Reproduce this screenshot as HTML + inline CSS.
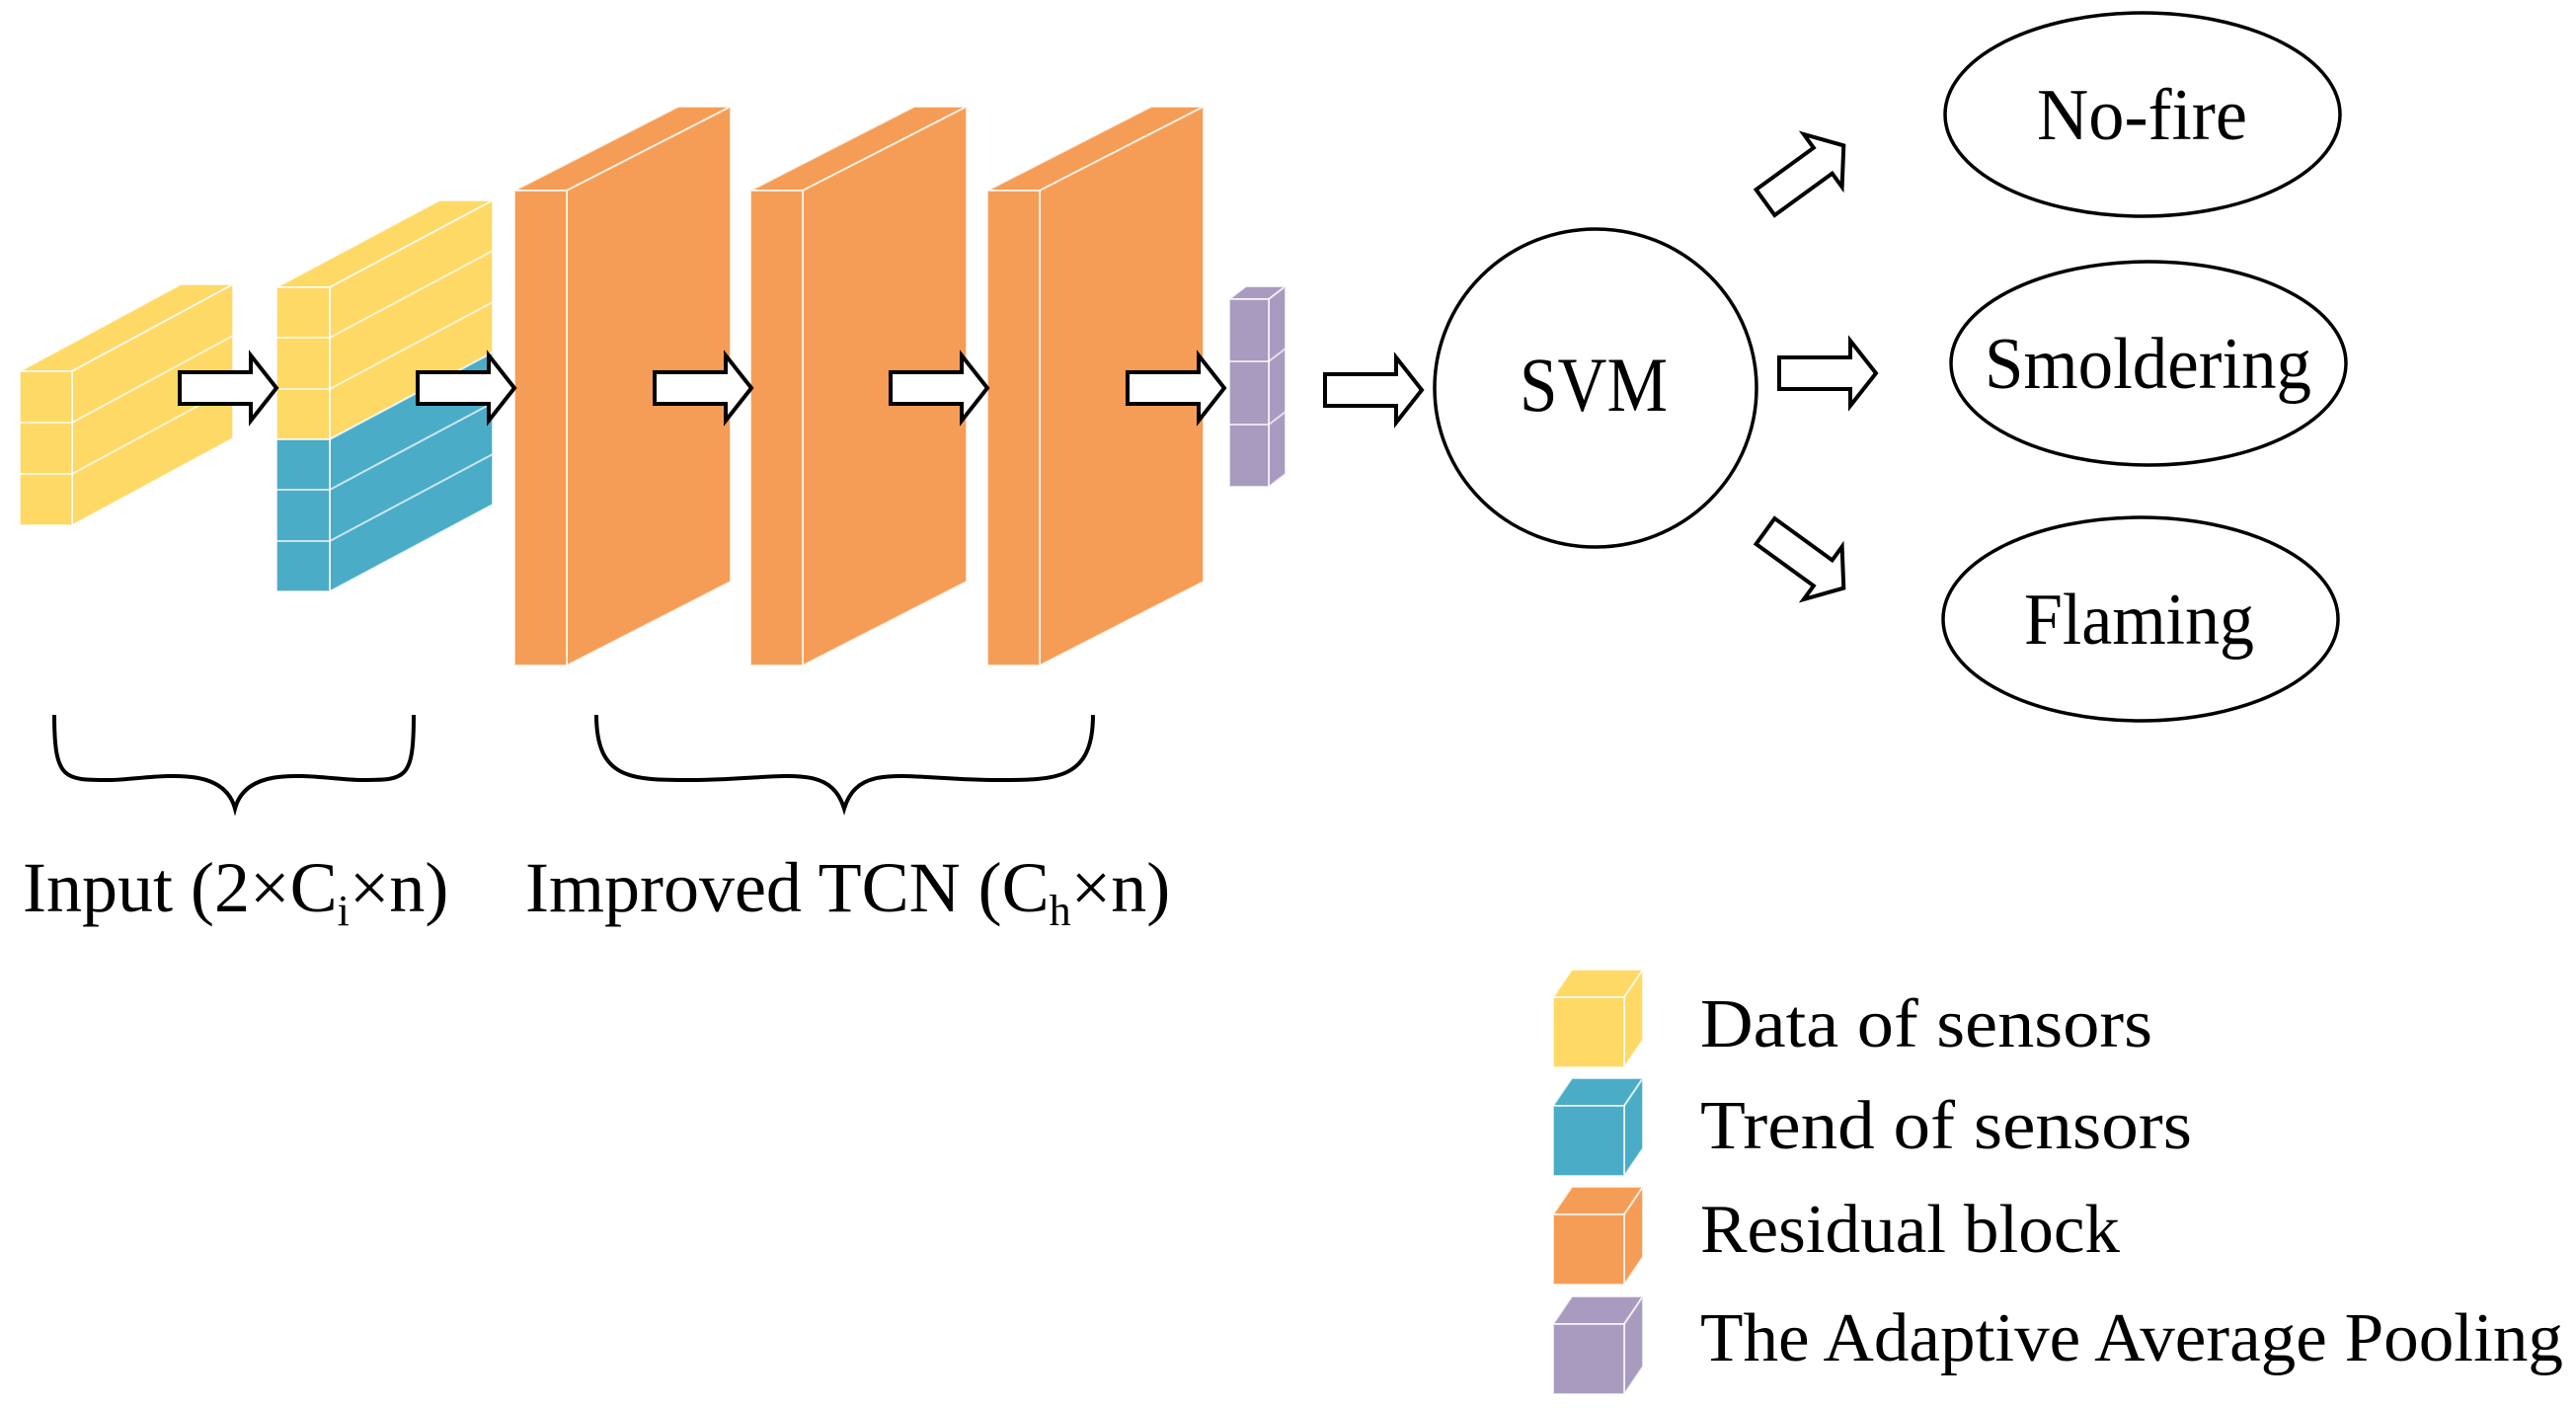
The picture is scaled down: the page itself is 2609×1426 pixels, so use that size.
<!DOCTYPE html>
<html><head><meta charset="utf-8"><style>html,body{margin:0;padding:0;background:#fff}svg{display:block}</style></head>
<body>
<svg width="2609" height="1426" viewBox="0 0 2609 1426" xmlns="http://www.w3.org/2000/svg" font-family="Liberation Serif, serif">
<defs>
<path id="arr" d="M0,-16 L72,-16 L72,-33 L98,0 L72,33 L72,16 L0,16 Z" fill="#fff" stroke="#000" stroke-width="4" stroke-linejoin="miter"/>
</defs>
<g stroke="#fff" stroke-opacity="0.7" stroke-width="2">
<!-- Block 1 yellow -->
<polygon points="20,376 183,288 236,288 73,376" fill="#FED966"/>
<polygon points="73,376 236,288 236,444 73,532" fill="#FED966"/>
<rect x="20" y="376" width="53" height="156" fill="#FED966"/>
<line x1="20" y1="428" x2="73" y2="428"/><line x1="73" y1="428" x2="236" y2="340"/>
<line x1="20" y1="480" x2="73" y2="480"/><line x1="73" y1="480" x2="236" y2="392"/>
<!-- Block 2 -->
<polygon points="280,291 445,203 499,203 334,291" fill="#FED966"/>
<polygon points="334,291 499,203 499,357 334,445" fill="#FED966"/>
<polygon points="334,445 499,357 499,511 334,599" fill="#4AACC6"/>
<rect x="280" y="291" width="54" height="154" fill="#FED966"/>
<rect x="280" y="445" width="54" height="154" fill="#4AACC6"/>
<line x1="280" y1="342" x2="334" y2="342"/><line x1="334" y1="342" x2="499" y2="254"/>
<line x1="280" y1="394" x2="334" y2="394"/><line x1="334" y1="394" x2="499" y2="306"/>
<line x1="280" y1="496" x2="334" y2="496"/><line x1="334" y1="496" x2="499" y2="408"/>
<line x1="280" y1="548" x2="334" y2="548"/><line x1="334" y1="548" x2="499" y2="460"/>
<!-- Orange blocks -->
<g fill="#F59D56">
<polygon points="521,193 687,108 740,108 574,193"/><polygon points="574,193 740,108 740,589 574,674"/><rect x="521" y="193" width="53" height="481"/>
<polygon points="760,193 926,108 979,108 813,193"/><polygon points="813,193 979,108 979,589 813,674"/><rect x="760" y="193" width="53" height="481"/>
<polygon points="1000,193 1166,108 1219,108 1053,193"/><polygon points="1053,193 1219,108 1219,589 1053,674"/><rect x="1000" y="193" width="53" height="481"/>
</g>
<!-- Purple -->
<g fill="#A99BC0">
<polygon points="1245,303 1262,290 1302,290 1285,303"/><polygon points="1285,303 1302,290 1302,480 1285,493"/><rect x="1245" y="303" width="40" height="190"/>
</g>
<line x1="1245" y1="366" x2="1285" y2="366"/><line x1="1285" y1="366" x2="1302" y2="353"/>
<line x1="1245" y1="430" x2="1285" y2="430"/><line x1="1285" y1="430" x2="1302" y2="417"/>
<!-- Legend cubes -->
<g transform="translate(1573,982)"><polygon points="0,28 19,0 91,0 72,28" fill="#FED966"/><polygon points="72,28 91,0 91,71 72,99" fill="#FED966"/><rect x="0" y="28" width="72" height="71" fill="#FED966"/></g>
<g transform="translate(1573,1092)"><polygon points="0,28 19,0 91,0 72,28" fill="#4AACC6"/><polygon points="72,28 91,0 91,71 72,99" fill="#4AACC6"/><rect x="0" y="28" width="72" height="71" fill="#4AACC6"/></g>
<g transform="translate(1573,1202)"><polygon points="0,28 19,0 91,0 72,28" fill="#F59D56"/><polygon points="72,28 91,0 91,71 72,99" fill="#F59D56"/><rect x="0" y="28" width="72" height="71" fill="#F59D56"/></g>
<g transform="translate(1573,1313)"><polygon points="0,28 19,0 91,0 72,28" fill="#A99BC0"/><polygon points="72,28 91,0 91,71 72,99" fill="#A99BC0"/><rect x="0" y="28" width="72" height="71" fill="#A99BC0"/></g>
</g>
<!-- Arrows -->
<use href="#arr" transform="translate(182,393)"/>
<use href="#arr" transform="translate(423,393)"/>
<use href="#arr" transform="translate(663,393)"/>
<use href="#arr" transform="translate(902,393)"/>
<use href="#arr" transform="translate(1142,393)"/>
<use href="#arr" transform="translate(1342,395)"/>
<use href="#arr" transform="translate(1802,378)"/>
<use href="#arr" transform="translate(1788,205) rotate(-36)"/>
<use href="#arr" transform="translate(1788,538) rotate(36)"/>
<!-- Circles/ellipses -->
<g fill="none" stroke="#000" stroke-width="3.5">
<ellipse cx="1616" cy="393" rx="163" ry="161"/>
<ellipse cx="2170" cy="116" rx="200" ry="103"/>
<ellipse cx="2176" cy="368" rx="200" ry="103"/>
<ellipse cx="2168" cy="627" rx="200" ry="103"/>
<!-- Braces -->
<path d="M55,724 C55,790 65,790 110,790 C150,790 225,770 238,819 C251,770 326,790 366,790 C411,790 419,790 419,724" stroke-width="4"/>
<path d="M604,724 C604,790 640,790 700,790 C790,790 840,770 855,819 C870,770 920,790 1010,790 C1070,790 1107,790 1107,724" stroke-width="4"/>
</g>
<!-- Text -->
<g fill="#000">
<text x="1539" y="416" font-size="78" textLength="150" lengthAdjust="spacingAndGlyphs">SVM</text>
<text x="2063" y="141" font-size="74" textLength="213" lengthAdjust="spacingAndGlyphs">No-fire</text>
<text x="2010" y="393" font-size="74" textLength="331" lengthAdjust="spacingAndGlyphs">Smoldering</text>
<text x="2050" y="652" font-size="74" textLength="233" lengthAdjust="spacingAndGlyphs">Flaming</text>
<text x="23" y="923" font-size="72">Input (2×C<tspan font-size="44" dy="14">i</tspan><tspan dy="-14">×n)</tspan></text>
<text x="532" y="923" font-size="72">Improved TCN (C<tspan font-size="44" dy="14">h</tspan><tspan dy="-14">×n)</tspan></text>
<text x="1722" y="1060" font-size="70" textLength="458" lengthAdjust="spacingAndGlyphs">Data of sensors</text>
<text x="1722" y="1163" font-size="70" textLength="498" lengthAdjust="spacingAndGlyphs">Trend of sensors</text>
<text x="1722" y="1268" font-size="70" textLength="425" lengthAdjust="spacingAndGlyphs">Residual block</text>
<text x="1722" y="1378" font-size="70" textLength="874" lengthAdjust="spacingAndGlyphs">The Adaptive Average Pooling</text>
</g>
</svg>
</body></html>
